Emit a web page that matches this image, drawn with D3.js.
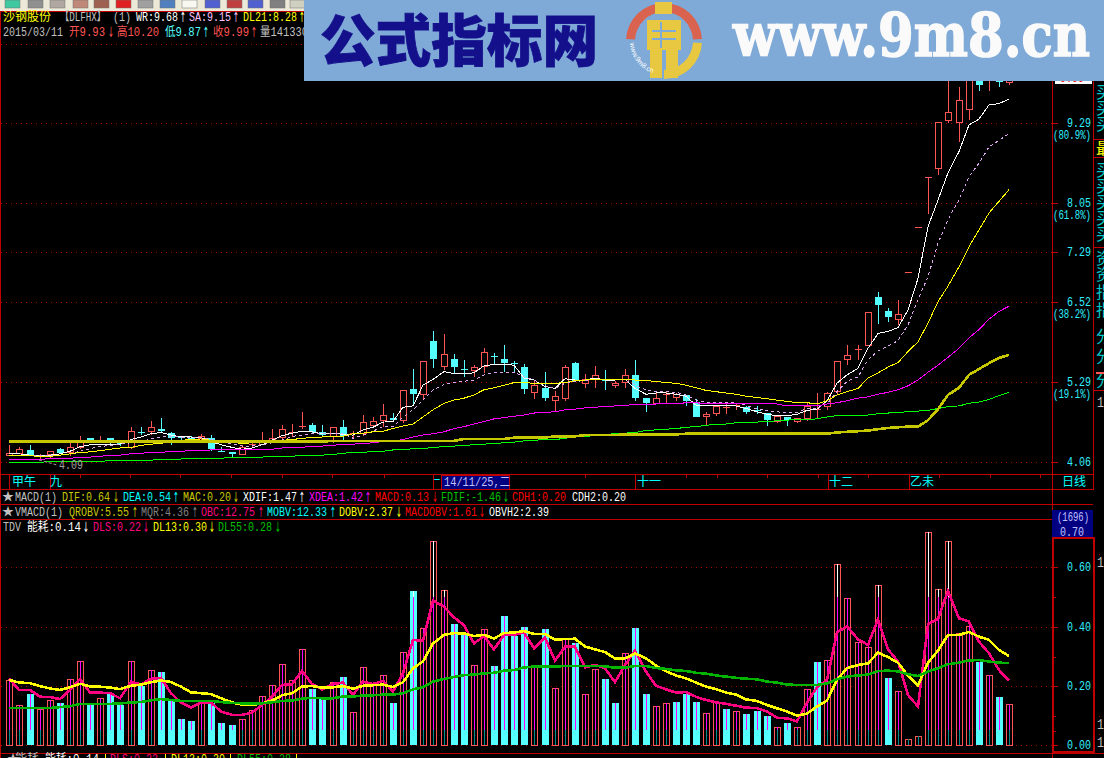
<!DOCTYPE html>
<html><head><meta charset="utf-8">
<style>html,body{margin:0;padding:0;background:#000;overflow:hidden}svg{display:block}</style>
<script src="https://cdn.jsdelivr.net/npm/d3@7/dist/d3.min.js"></script></head><body>
<script>
const opens=[4.16,4.19,4.24,4.14,4.17,4.26,4.21,4.29,4.42,4.39,4.42,4.34,4.29,4.51,4.54,4.56,4.50,4.44,4.42,4.42,4.42,4.23,4.21,4.18,4.31,4.33,4.40,4.44,4.50,4.60,4.63,4.52,4.45,4.60,
4.48,4.50,4.63,4.71,4.74,4.71,5.18,5.11,5.92,5.53,5.65,5.49,5.47,5.53,5.69,5.65,5.59,5.52,5.14,5.20,5.01,5.05,5.58,5.27,5.34,5.32,5.25,5.29,5.40,5.04,4.96,5.10,5.06,5.09,4.98,
4.76,4.81,4.90,4.92,4.91,4.86,4.81,4.68,4.75,4.68,4.74,4.87,4.92,5.15,5.64,5.79,5.86,6.60,6.39,6.26,6.98,7.67,8.44,8.60,9.33,9.30,9.51,10.12,10.05,10.15,9.93];
const closes=[4.19,4.25,4.16,4.16,4.22,4.19,4.28,4.38,4.40,4.40,4.39,4.33,4.53,4.50,4.60,4.54,4.42,4.42,4.41,4.45,4.26,4.21,4.17,4.29,4.33,4.40,4.42,4.56,4.51,4.61,4.51,4.47,4.60,4.46,
4.50,4.67,4.69,4.78,4.71,5.16,5.11,5.61,5.65,5.72,5.52,5.48,5.52,5.75,5.67,5.58,5.58,5.18,5.25,5.04,5.08,5.52,5.31,5.33,5.39,5.30,5.28,5.39,5.05,4.96,5.05,5.11,5.10,4.99,4.75,
4.80,4.92,4.91,4.93,4.83,4.84,4.71,4.77,4.70,4.73,4.92,4.88,5.12,5.62,5.70,5.80,6.37,6.48,6.30,6.34,6.99,7.68,8.45,9.30,9.46,9.64,10.05,9.88,10.3,9.92,9.99];
const highs=[4.32,4.28,4.32,4.18,4.23,4.27,4.35,4.46,4.43,4.45,4.42,4.37,4.60,4.60,4.69,4.73,4.52,4.46,4.46,4.49,4.47,4.29,4.21,4.32,4.34,4.52,4.56,4.63,4.64,4.82,4.66,4.63,4.60,4.70,
4.53,4.78,4.75,4.95,4.81,5.16,5.49,5.61,6.08,6.03,5.72,5.63,5.55,5.81,5.74,5.86,5.61,5.57,5.32,5.44,5.15,5.55,5.60,5.41,5.53,5.48,5.31,5.49,5.63,5.04,5.15,5.14,5.12,5.09,5.02,
4.83,4.93,4.96,4.96,4.92,4.92,4.81,4.78,4.75,4.73,4.96,5.12,5.14,5.62,5.86,5.86,6.37,6.68,6.44,6.56,6.99,7.68,8.45,9.30,10.2,9.84,10.3,10.2,10.4,10.3,10.20];
const lows=[4.15,4.18,4.15,4.10,4.12,4.18,4.15,4.26,4.38,4.35,4.30,4.30,4.26,4.47,4.47,4.50,4.32,4.39,4.37,4.38,4.23,4.21,4.11,4.16,4.29,4.32,4.34,4.39,4.44,4.56,4.48,4.44,4.34,4.39,
4.42,4.45,4.60,4.60,4.68,4.65,4.93,5.01,5.50,5.48,5.42,5.37,5.37,5.43,5.57,5.45,5.45,5.10,5.03,4.99,4.82,5.00,5.29,5.20,5.20,5.17,5.20,5.20,4.99,4.83,4.96,4.96,5.00,4.92,4.75,
4.62,4.77,4.80,4.85,4.80,4.80,4.61,4.66,4.61,4.66,4.69,4.74,4.85,5.09,5.55,5.63,5.86,6.19,6.22,6.17,6.98,7.67,7.89,8.49,9.29,9.00,9.33,9.79,9.79,9.84,9.87];
const wrLine=[4.18,4.18,4.16,4.15,4.16,4.18,4.22,4.29,4.32,4.33,4.33,4.33,4.40,4.44,4.49,4.51,4.47,4.44,4.44,4.43,4.37,4.32,4.28,4.25,4.27,4.32,4.39,4.46,4.50,4.53,4.52,4.49,4.50,4.48,
4.47,4.55,4.59,4.67,4.68,4.90,4.92,5.24,5.33,5.45,5.42,5.42,5.43,5.54,5.56,5.56,5.55,5.35,5.32,5.22,5.19,5.34,5.32,5.32,5.35,5.32,5.32,5.33,5.19,5.10,5.12,5.12,5.10,5.07,4.93,
4.92,4.92,4.92,4.92,4.88,4.83,4.79,4.77,4.77,4.79,4.85,4.87,5.00,5.27,5.40,5.50,5.81,6.04,6.07,6.13,6.40,6.89,7.69,8.10,8.52,8.85,9.26,9.35,9.57,9.59,9.66];
const saLine=[4.16,4.16,4.16,4.16,4.15,4.16,4.18,4.22,4.26,4.29,4.31,4.33,4.35,4.37,4.41,4.44,4.44,4.44,4.43,4.44,4.40,4.36,4.33,4.30,4.30,4.32,4.35,4.39,4.45,4.47,4.49,4.49,4.49,4.50,
4.42,4.47,4.53,4.60,4.60,4.75,4.86,5.01,5.17,5.25,5.28,5.30,5.32,5.40,5.43,5.44,5.44,5.37,5.32,5.23,5.19,5.27,5.30,5.31,5.33,5.32,5.33,5.32,5.24,5.17,5.14,5.14,5.13,5.09,5.01,
4.98,4.98,4.98,4.97,4.93,4.87,4.85,4.83,4.81,4.82,4.88,4.88,4.95,5.14,5.30,5.37,5.63,5.77,5.84,5.93,6.17,6.56,6.92,7.43,7.80,8.10,8.46,8.67,8.92,9.02,9.13];
const dl21Line=[4.15,4.15,4.15,4.14,4.14,4.16,4.18,4.20,4.21,4.23,4.25,4.27,4.28,4.31,4.33,4.34,4.37,4.39,4.40,4.41,4.39,4.38,4.36,4.34,4.35,4.36,4.37,4.39,4.40,4.42,4.43,4.44,4.44,4.45,
4.49,4.50,4.52,4.53,4.57,4.61,4.64,4.75,4.86,4.96,5.01,5.04,5.09,5.17,5.20,5.24,5.28,5.28,5.27,5.27,5.27,5.28,5.31,5.32,5.33,5.33,5.33,5.33,5.32,5.31,5.30,5.28,5.27,5.24,5.20,
5.16,5.14,5.12,5.10,5.07,5.05,5.03,5.01,4.99,4.97,4.97,4.95,5.00,5.09,5.14,5.19,5.35,5.43,5.52,5.59,5.76,5.91,6.20,6.53,6.77,7.07,7.38,7.64,7.90,8.08,8.26];
const magentaLine=[4.09,4.09,4.09,4.09,4.11,4.11,4.11,4.13,4.13,4.14,4.16,4.16,4.18,4.19,4.20,4.20,4.22,4.22,4.23,4.23,4.24,4.24,4.24,4.24,4.24,4.25,4.25,4.27,4.28,4.28,4.30,4.30,4.31,4.33,
4.33,4.34,4.35,4.37,4.38,4.40,4.44,4.47,4.49,4.52,4.57,4.60,4.64,4.68,4.72,4.74,4.76,4.78,4.81,4.82,4.83,4.86,4.87,4.89,4.90,4.91,4.92,4.93,4.94,4.94,4.95,4.95,4.95,4.97,4.97,
4.95,4.95,4.95,4.95,4.95,4.95,4.95,4.95,4.92,4.92,4.92,4.92,4.95,4.97,5.00,5.04,5.06,5.10,5.13,5.17,5.23,5.32,5.44,5.55,5.67,5.81,5.97,6.10,6.26,6.38,6.46];
const greenLine=[4.05,4.05,4.05,4.05,4.06,4.06,4.06,4.06,4.06,4.06,4.08,4.08,4.08,4.08,4.08,4.10,4.10,4.10,4.11,4.11,4.11,4.11,4.13,4.13,4.13,4.13,4.14,4.14,4.14,4.16,4.16,4.16,4.17,4.19,
4.20,4.20,4.22,4.22,4.24,4.24,4.26,4.26,4.28,4.29,4.30,4.31,4.32,4.33,4.34,4.35,4.36,4.38,4.39,4.40,4.40,4.42,4.44,4.45,4.46,4.48,4.49,4.50,4.51,4.54,4.55,4.56,4.57,4.59,4.60,
4.62,4.64,4.64,4.66,4.67,4.67,4.68,4.69,4.70,4.71,4.71,4.72,4.75,4.77,4.77,4.77,4.78,4.80,4.81,4.82,4.83,4.84,4.85,4.88,4.91,4.92,4.96,4.98,5.02,5.08,5.13];
const oliveLine=[4.37,4.37,4.37,4.37,4.37,4.37,4.37,4.37,4.37,4.37,4.37,4.37,4.37,4.37,4.37,4.37,4.37,4.37,4.37,4.37,4.37,4.37,4.37,4.37,4.37,4.37,4.37,4.37,4.37,4.37,4.37,4.37,4.38,4.38,
4.38,4.38,4.38,4.38,4.38,4.38,4.38,4.38,4.38,4.38,4.38,4.41,4.41,4.41,4.41,4.41,4.43,4.43,4.43,4.43,4.45,4.45,4.45,4.47,4.47,4.47,4.47,4.48,4.48,4.48,4.48,4.48,4.48,4.49,4.49,
4.49,4.49,4.49,4.49,4.49,4.49,4.49,4.49,4.49,4.49,4.49,4.49,4.49,4.51,4.52,4.53,4.54,4.56,4.58,4.59,4.60,4.60,4.70,4.87,5.09,5.20,5.40,5.49,5.58,5.66,5.71];
const energy=[.218,.134,.172,.120,.151,.142,.222,.283,.135,.158,.172,.135,.283,.199,.252,.247,.152,.088,.081,.141,.142,.074,.068,.087,.117,.164,.202,.273,.218,.323,.189,.155,.212,.230,
.110,.262,.203,.235,.142,.313,.520,.394,.688,.523,.409,.375,.269,.391,.267,.436,.369,.398,.265,.392,.191,.360,.343,.171,.256,.223,.142,.310,.395,.172,.131,.141,.145,.172,.145,
.107,.144,.122,.114,.105,.115,.098,.060,.074,.060,.188,.280,.286,.610,.495,.347,.330,.539,.226,.181,.019,.029,.718,.526,.688,.377,.401,.280,.235,.162,.137];
const fallingBars=[2,5,8,10,11,13,15,16,17,18,20,21,22,30,31,33,38,40,44,45,48,49,50,51,53,56,59,60,62,63,66,67,68,71,73,74,75,77,80,87,96,98];
const dls=[.225,.186,.186,.163,.162,.155,.186,.223,.177,.177,.175,.158,.213,.205,.223,.227,.175,.143,.127,.144,.144,.113,.102,.102,.109,.135,.163,.203,.205,.25,.206,.188,.206,.211,
.169,.214,.206,.217,.181,.242,.355,.352,.488,.467,.431,.405,.343,.368,.323,.372,.372,.38,.327,.363,.285,.332,.332,.262,.271,.259,.212,.27,.319,.248,.2,.188,.177,.179,.163,
.152,.144,.139,.133,.126,.125,.113,.092,.09,.08,.143,.195,.22,.38,.401,.357,.338,.425,.323,.282,.169,.13,.408,.426,.521,.428,.417,.349,.31,.253,.218];
const dl13=[.22,.211,.209,.199,.191,.186,.195,.207,.198,.197,.194,.189,.2,.204,.212,.218,.213,.197,.178,.175,.172,.158,.144,.136,.135,.141,.15,.168,.175,.198,.199,.194,.195,.199,
.19,.2,.202,.204,.196,.212,.259,.282,.343,.372,.378,.377,.368,.372,.36,.378,.38,.385,.375,.375,.356,.358,.359,.333,.323,.314,.292,.293,.309,.293,.268,.249,.235,.225,.211,
.197,.189,.177,.17,.154,.149,.135,.124,.113,.099,.106,.13,.15,.22,.26,.27,.276,.312,.297,.278,.234,.202,.278,.319,.372,.372,.382,.366,.355,.321,.301];
const dl55=[.125,.125,.125,.125,.125,.128,.131,.139,.139,.139,.139,.14,.144,.145,.151,.155,.152,.149,.149,.149,.149,.145,.142,.141,.141,.141,.144,.149,.15,.157,.159,.158,.158,.164,
.164,.167,.168,.17,.17,.175,.188,.195,.214,.223,.23,.236,.238,.242,.244,.251,.253,.262,.265,.265,.265,.267,.267,.267,.267,.266,.261,.261,.267,.267,.26,.257,.252,.25,.244,
.241,.235,.231,.227,.224,.222,.214,.211,.204,.203,.203,.203,.208,.222,.231,.235,.238,.25,.251,.249,.239,.233,.248,.259,.273,.278,.286,.287,.282,.278,.277];
const priceTicks=["9.29","8.05","7.29","6.52","5.29","4.06"];
const fibLabels=[["(80.9%)","9.29"],["(61.8%)","8.05"],["(38.2%)","6.52"],["(19.1%)","5.29"]];
const energyTicks=["0.60","0.40","0.20","0.00"];
const lowLabel="4.09";
const C={red:"#ff5555",cyan:"#55ffff",line:"#c00000",grid:"#a80000",tick:"#30f0ff",pink:"#ff0080",yel:"#ffff00",grn:"#00b400",mag:"#ff00ff",lime:"#00ff00",grey:"#c0c0c0",lilac:"#ffc0ff",white:"#fff"};
const W=1104,H=758;
const svg=d3.select("body").append("svg").attr("width",W).attr("height",H).style("background","#000");
const xScale=d3.scaleLinear().domain([0,99]).range([9.4,1009]);
const x=i=>Math.round(xScale(i));
const yP=d3.scaleLinear().domain([4.06,9.29]).range([461.6,123]);
const yE=d3.scaleLinear().domain([0,.6]).range([745,567.4]);
const crisp="crispEdges";
function hline(y,x1,x2,c,w,dash){svg.append("line").attr("x1",x1).attr("x2",x2).attr("y1",y).attr("y2",y).attr("stroke",c).attr("stroke-width",w||1).attr("stroke-dasharray",dash||null).attr("shape-rendering",crisp);}
function vline(xx,y1,y2,c,w){svg.append("line").attr("x1",xx).attr("x2",xx).attr("y1",y1).attr("y2",y2).attr("stroke",c).attr("stroke-width",w||1).attr("shape-rendering",crisp);}
function txt(s,xx,yc,c,opt){opt=opt||{};let cw=opt.cw||6,len=0;const arrow=s=="↑"||s=="↓";for(const ch of s)len+=ch.charCodeAt(0)>255&&!arrow?cw*2:cw;
 if(opt.width)len=opt.width;const sx=opt.right?xx-len:xx;
 return (opt.parent||svg).append("text").attr("x",sx).attr("y",yc+4+(arrow?1:0)).attr("fill",c).attr("font-family",arrow?'"DejaVu Sans"':'"Liberation Mono","Noto Sans CJK SC",monospace').attr("font-size",arrow?14:(opt.size||12)).attr("textLength",len).attr("lengthAdjust","spacingAndGlyphs").text(s);}
/* toolbar */
svg.append("rect").attr("width",W).attr("height",11).attr("fill","#ece9d8");
const toolIcons=[[5,"#40c8a0"],[28,"#909090"],[50,"#b0a8a0"],[73,"#c08878"],[94,"#a06050"],[116,"#e02020"],[138,"#a0a0a0"],[160,"#5080c0"],[182,"#f8f8f0"],[205,"#5060d0"],[227,"#c04040"],[248,"#5060d0"],[270,"#808080"],[290,"#d0d0c0"]];
toolIcons.forEach(d=>svg.append("rect").attr("x",d[0]).attr("y",0).attr("width",15).attr("height",8).attr("fill",d[1]).attr("stroke","#707070").attr("stroke-width",.5));
hline(11.5,0,W,C.line);
vline(0.5,11,H,C.line);
/* panes */
hline(44.5,1,1052,C.grid,1,"1,4");
priceTicks.forEach(t=>{const y=Math.round(yP(+t))+.5;hline(y,1,1052,C.grid,1,"1,4");hline(y,1052,1058,C.line);txt(t,1091,y-1,C.tick,{right:true});});
fibLabels.forEach(d=>txt(d[0],1091,Math.round(yP(+d[1]))+12,C.tick,{right:true,width:38}));
[474.5,489.5,504.5,519.5].forEach((y,i)=>hline(y,0,i==3?1052:1093,C.line));
vline(1052.5,11,H,C.line);vline(1093.5,11,490,C.line);
/* date axis */
[80,130,180,231,282,332,384,585,686,717,767,818,868,939,990,1040].forEach(v=>vline(v+.5,474,478,C.line));
[9,50,433,635,828,909].forEach(v=>vline(v+.5,474,489,C.line));
[["甲午",12],["九",50],["十一",637],["十二",829],["乙未",910]].forEach(d=>txt(d[0],d[1],482,"#00ffff",{cw:6}));
txt("一",434,481,"#00ffff",{width:6});
txt("日线",1062,482,"#00ffff");
svg.append("rect").attr("x",441.5).attr("y",475.5).attr("width",68).attr("height",13.5).attr("fill","#000080").attr("stroke",C.line).attr("shape-rendering",crisp);
txt("14/11/25,二",444,482,"#c0c0ff");
/* indicator header rows */
const rowMacd=[["MACD(1)",15,C.grey],["DIF:0.64",62,"#c8c800"],["↓",113,"#c8c800"],["DEA:0.54",123,"#00ffff"],["↑",173,"#00ffff"],["MAC:0.20",183,"#c8c800"],["↓",233,"#c8c800"],["XDIF:1.47",243,"#fff"],["↑",299,"#fff"],["XDEA:1.42",309,C.mag],["↑",365,C.mag],["MACD:0.13",375,"#ff0000"],["↓",432,"#ff0000"],["FDIF:-1.46",441,"#00c000"],["↓",503,"#00c000"],["CDH1:0.20",512,"#ff0000"],["CDH2:0.20",572,"#fff"]];
const rowVmacd=[["VMACD(1)",15,C.grey],["QROBV:5.55",69,"#c8c800"],["↑",132,"#c8c800"],["MQR:4.36",141,"#808080"],["↑",192,"#808080"],["OBC:12.75",201,"#ff0080"],["↑",258,"#ff0080"],["MOBV:12.33",267,"#00ffff"],["↑",330,"#00ffff"],["DOBV:2.37",339,"#ffff00"],["↓",396,"#ffff00"],["MACDOBV:1.61",405,"#ff0000"],["↓",479,"#ff0000"],["OBVH2:2.39",489,"#fff"]];
const rowTdv=[["TDV",3,C.grey],["能耗:0.14",27,"#fff"],["↓",83,"#fff"],["DLS:0.22",93,"#ff0080"],["↓",143,"#ff0080"],["DL13:0.30",153,"#ffff00"],["↓",209,"#ffff00"],["DL55:0.28",218,"#00c000"],["↓",275,"#00c000"]];
rowMacd.forEach(d=>txt(d[0],d[1],497,d[2]));rowVmacd.forEach(d=>txt(d[0],d[1],512,d[2]));rowTdv.forEach(d=>txt(d[0],d[1],527,d[2]));
txt("★",2,497,C.grey,{width:12});txt("★",2,512,C.grey,{width:12});
/* title rows */
const titleRow=[["沙钢股份",3,"#ffff00"],["【DLFHX】",60,C.grey,46],["(1)",113,C.grey],["WR:9.68",136,"#fff"],["↑",180,"#fff"],["SA:9.15",189,C.lilac],["↑",233,C.lilac],["DL21:8.28",243,"#ffff00"],["↑",299,"#ffff00"]];
const quoteRow=[["2015/03/11",3,C.grey],["开9.93",69,"#ff5555"],["↓",108,"#ff5555"],["高10.20",117,"#ff5555"],["低9.87",165,"#55ffff"],["↑",203,"#55ffff"],["收9.99",213,"#ff5555"],["↑",251,"#ff5555"],["量141330",260,C.grey]];
titleRow.forEach(d=>txt(d[0],d[1],17,d[2],d[3]?{width:d[3]}:{}));quoteRow.forEach(d=>txt(d[0],d[1],32,d[2]));
/* candles */
const cg=svg.append("g").attr("shape-rendering",crisp);
opens.forEach((o,i)=>{const c=closes[i],up=c>=o,col=up?C.red:C.cyan,xx=x(i);
 const top=Math.round(yP(Math.max(o,c))),bot=Math.round(yP(Math.min(o,c)));
 cg.append("line").attr("x1",xx+.5).attr("x2",xx+.5).attr("y1",yP(highs[i])).attr("y2",yP(lows[i])).attr("stroke",col);
 if(bot-top<=1){cg.append("rect").attr("x",xx-3).attr("y",top).attr("width",7).attr("height",1).attr("fill",col);return;}
 cg.append("rect").attr("x",xx-3+(up?.5:0)).attr("y",top+(up?.5:0)).attr("width",up?6:7).attr("height",bot-top).attr("fill",up?"#000":col).attr("stroke",up?col:"none");
});
const lineP=d3.line().x((d,i)=>x(i)).y(d=>yP(d));
const topLines=[[wrLine,"#fff",1,null],[saLine,"#e0a8f0",1,"3,3"],[dl21Line,"#ffff00",1,null],[magentaLine,"#ff00ff",1,null],[greenLine,"#00ff00",1,null],[oliveLine,"#c8c800",2.6,null]];
topLines.forEach(l=>svg.append("path").attr("d",lineP(l[0])).attr("fill","none").attr("stroke",l[1]).attr("stroke-width",l[2]).attr("stroke-dasharray",l[3]).attr("shape-rendering",crisp));
svg.append("line").attr("x1",39).attr("y1",460).attr("x2",57).attr("y2",465).attr("stroke","#a0a0a0").attr("stroke-dasharray","3,2");
txt(lowLabel,59,465,"#a0a0a0",{cw:6});
/* current price tag */
svg.append("rect").attr("x",1055).attr("y",74).attr("width",37).attr("height",10).attr("fill","#fff");
txt("9.99",1060,78,"#ff0000");
/* energy pane */
energyTicks.forEach(t=>{const y=Math.round(yE(+t))+.5;hline(y,1,1052,C.grid,1,"1,4");hline(y,1052,1058,C.line);txt(t,1091,y-1,C.tick,{right:true});});
[597,657,716,731].forEach(y=>hline(y+.5,1052,1056,C.line));
const bg=svg.append("g").attr("shape-rendering",crisp);
energy.forEach((v,i)=>{const xx=x(i),y=Math.round(yE(v)),base=yE(0),down=fallingBars.includes(i);
 if(down)bg.append("rect").attr("x",xx-3).attr("y",y).attr("width",7).attr("height",base-y).attr("fill",C.cyan);
 else bg.append("rect").attr("x",xx-2.5).attr("y",y+.5).attr("width",6).attr("height",base-y-.5).attr("fill","#000").attr("stroke",C.red);
 const seg=(a,b,c)=>{if(b>a)bg.append("line").attr("x1",xx+.5).attr("x2",xx+.5).attr("y1",yE(a)).attr("y2",yE(b)).attr("stroke",c);};
 if(v>.03){seg(.05,Math.min(v,.5),C.mag);seg(.5,v,"#fff");}
 if(!down)seg(0,Math.min(.05,v),"#008c8c");
});
const lineE=d3.line().x((d,i)=>x(i)).y(d=>yE(d));
[[dls,C.pink],[dl13,C.yel],[dl55,C.grn]].forEach(l=>svg.append("path").attr("d",lineE(l[0])).attr("fill","none").attr("stroke",l[1]).attr("stroke-width",2.6).attr("shape-rendering",crisp));
/* value box */
svg.append("rect").attr("x",1052).attr("y",510).attr("width",41).attr("height",29).attr("fill","#000080");
txt("(1696)",1073,517,"#c0c0ff",{width:32}).attr("x",1057);txt("0.70",1072,532,"#c0c0ff",{width:24}).attr("x",1060);
svg.append("rect").attr("x",1052.5).attr("y",538).attr("width",41).attr("height",214).attr("fill","none").attr("stroke",C.line).attr("stroke-width",2).attr("shape-rendering",crisp);
hline(753.5,0,W,C.line);
/* bottom legend */
[["★",7,C.grey],["能耗",15,C.grey],["能耗:0.14",45,"#fff"],["DLS:0.22",110,"#ff0080"],["DL13:0.30",171,"#ffff00"],["DL55:0.28",237,"#00c000"]].forEach(d=>txt(d[0],d[1],759,d[2]));
[105,165,230,296].forEach(v=>vline(v+.5,754,H,"#ffff00"));
/* right strip */
const clip=svg.append("clipPath").attr("id","strip");clip.append("rect").attr("x",1094).attr("y",11).attr("width",10).attr("height",H);
const strip=svg.append("g").attr("clip-path","url(#strip)");
const stripRows=[["买",92],["买",108],["买",124],["最",148],["买",170],["买",186],["买",202],["买",218],["买",234],["资",258],["资",274],["指",292],["指",310],["分",336],["分",356],["分",380]];
stripRows.forEach(d=>strip.append("text").attr("x",1096).attr("y",d[1]+6).attr("fill",d[0]=="最"?"#ffff00":"#00c8c8").attr("font-family","Noto Sans CJK SC").attr("font-size",16).text(d[0]));
[139,157,247,390].forEach(y=>hline(y+.5,1093,W,C.line));
hline(372.5,1096,W,"#ff5555",2);
[[403],[563],[725],[743]].forEach(d=>txt("1",1097,d[0],C.grey,{width:7,size:14}));
[554,716,734].forEach(y=>hline(y+.5,1094,W,C.grid,1,"1,4"));
/* banner */
const bn=svg.append("g");
bn.append("rect").attr("x",304).attr("y",0).attr("width",800).attr("height",81).attr("fill","#7fa9d6");
bn.append("text").attr("x",320).attr("y",61).attr("fill","#14108c").attr("stroke","#14108c").attr("stroke-width",.8).attr("font-family","Noto Sans CJK SC").attr("font-weight",900).attr("font-size",56).attr("textLength",278).attr("lengthAdjust","spacingAndGlyphs").text("公式指标网");
const arc=d3.arc();
const cx=664,cy=41;
bn.append("path").attr("transform",`translate(${cx},${cy})`).attr("fill","#d9634f").attr("d",arc({innerRadius:29,outerRadius:38,startAngle:-Math.PI/2+.05,endAngle:Math.PI/2-.05}));
bn.append("path").attr("transform",`translate(${cx},${cy})`).attr("fill","#e8c840").attr("d",arc({innerRadius:29,outerRadius:38,startAngle:Math.PI/2+.05,endAngle:Math.PI}));
[[655,2,17,12],[647,20,34,30],[650,50,12,28],[666,50,12,28]].forEach(r=>bn.append("rect").attr("x",r[0]).attr("y",r[1]).attr("width",r[2]).attr("height",r[3]).attr("fill","#e8c840"));
[[652,30,24,2],[652,38,24,2],[660,22,2,26]].forEach(r=>bn.append("rect").attr("x",r[0]).attr("y",r[1]).attr("width",r[2]).attr("height",r[3]).attr("fill","#7fa9d6"));
bn.append("path").attr("id","ringText").attr("fill","none").attr("d",`M${cx-34},${cy+2} A34,34 0 0 0 ${cx-2},${cy+34}`);
bn.append("text").attr("fill","#fff").attr("font-size",7).attr("font-family","Liberation Sans").append("textPath").attr("href","#ringText").text("www.9m8.cn");
bn.append("text").attr("x",733).attr("y",56).attr("fill","#fafafa").attr("stroke","#fafafa").attr("stroke-width",1.6).attr("font-family","DejaVu Serif").attr("font-weight",700).attr("font-size",60).attr("textLength",357).attr("lengthAdjust","spacingAndGlyphs").text("www.9m8.cn");
</script></body></html>
